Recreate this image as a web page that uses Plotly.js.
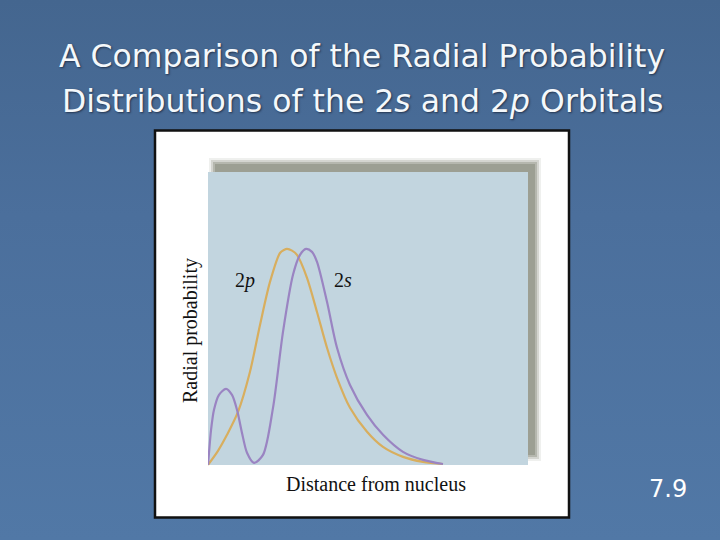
<!DOCTYPE html>
<html>
<head>
<meta charset="utf-8">
<script src="https://cdn.plot.ly/plotly-3.0.1.min.js"></script>
<style>
html,body{margin:0;padding:0;width:720px;height:540px;overflow:hidden;
background:linear-gradient(180deg,#44668f 0%,#4b6f9c 40%,#5178a6 100%);}
#chart{width:720px;height:540px;}
</style>
</head>
<body>
<div id="chart"></div>
<script>
// Distance from nucleus (arbitrary units) and radial probability (relative to peak = 1)
var x2p = [0, 0.5, 0.95, 1.5, 2.1, 2.6, 3.1, 3.6, 3.8, 3.95, 4.2, 4.45, 4.95, 5.45, 5.95, 6.45, 7.1, 7.95, 8.75, 9.75, 10.75, 11.75];
var y2p = [0, 0.065, 0.139, 0.245, 0.431, 0.648, 0.847, 0.981, 0.995, 1.0, 0.992, 0.972, 0.866, 0.708, 0.542, 0.403, 0.264, 0.153, 0.083, 0.037, 0.014, 0.004];

var x2s = [0, 0.05, 0.15, 0.3, 0.55, 0.9, 1.2, 1.45, 1.7, 1.95, 2.3, 2.75, 3.25, 3.75, 4.25, 4.6, 4.9, 5.2, 5.45, 5.95, 6.45, 7.1, 7.95, 8.75, 9.75, 10.75, 11.75];
var y2s = [0, 0.056, 0.16, 0.255, 0.324, 0.352, 0.324, 0.255, 0.148, 0.056, 0.009, 0.046, 0.264, 0.616, 0.880, 0.972, 1.0, 0.986, 0.940, 0.755, 0.542, 0.370, 0.231, 0.139, 0.060, 0.023, 0.004];

var labels = {s: '2<i>s</i>', p: '2<i>p</i>'};
var xTitle = 'Distance from nucleus';
var yTitle = 'Radial probability';
var titleLine1 = 'A Comparison of the Radial Probability';
var titleLine2 = 'Distributions of the 2<i>s</i> and 2<i>p</i> Orbitals';
var slideNumber = '7.9';

// plot-area geometry (pixels)
var L = 208, R = 528, T = 172, B = 467;
var W = R - L, H = B - T;
function px(v){ return (v - L) / W; }
function py(v){ return (B - v) / H; }

var serif = 'Liberation Serif, Times New Roman, serif';
var sans = 'DejaVu Sans, Verdana, sans-serif';

var traces = [
  {x: x2p, y: y2p, mode: 'lines', line: {color: '#d8ae5e', width: 2.2, shape: 'spline', smoothing: 0.8}, hoverinfo: 'skip', cliponaxis: false},
  {x: x2s, y: y2s, mode: 'lines', line: {color: '#9a84c2', width: 2.2, shape: 'spline', smoothing: 0.8}, hoverinfo: 'skip', cliponaxis: false}
];

var shapes = [
  // white frame
  {type: 'rect', xref: 'paper', yref: 'paper', x0: px(155), x1: px(569), y0: py(130.5), y1: py(517.5),
   fillcolor: '#ffffff', line: {color: '#111111', width: 2.5}, layer: 'below'},
  // soft shadow
  {type: 'rect', xref: 'paper', yref: 'paper', x0: px(209), x1: px(541), y0: py(158), y1: py(461),
   fillcolor: 'rgba(150,153,140,0.15)', line: {width: 0}, layer: 'below'},
  {type: 'rect', xref: 'paper', yref: 'paper', x0: px(211), x1: px(539), y0: py(160), y1: py(459),
   fillcolor: 'rgba(150,153,140,0.3)', line: {width: 0}, layer: 'below'},
  {type: 'rect', xref: 'paper', yref: 'paper', x0: px(213), x1: px(537), y0: py(162), y1: py(457),
   fillcolor: 'rgba(150,153,140,0.5)', line: {width: 0}, layer: 'below'},
  {type: 'rect', xref: 'paper', yref: 'paper', x0: px(215), x1: px(535), y0: py(164), y1: py(455),
   fillcolor: 'rgba(150,153,140,0.8)', line: {width: 0}, layer: 'below'},
  // plot area
  {type: 'rect', xref: 'paper', yref: 'paper', x0: 0, x1: 1, y0: py(465), y1: 1,
   fillcolor: '#c2d5df', line: {width: 0}, layer: 'below'}
];

var titleShadow = '1px 1px 2px rgba(20,30,50,0.7)';
var annotations = [
  {text: titleLine1, xref: 'paper', yref: 'paper', x: px(362), y: py(56), xanchor: 'center', yanchor: 'middle',
   showarrow: false, font: {family: sans, size: 31.5, color: '#f4f8fb', shadow: titleShadow}},
  {text: titleLine2, xref: 'paper', yref: 'paper', x: px(362), y: py(101), xanchor: 'center', yanchor: 'middle',
   showarrow: false, font: {family: sans, size: 31.5, color: '#f4f8fb', shadow: titleShadow}},
  {text: slideNumber, xref: 'paper', yref: 'paper', x: px(668), y: py(489), xanchor: 'center', yanchor: 'middle',
   showarrow: false, font: {family: sans, size: 24, color: '#ffffff'}},
  {text: xTitle, xref: 'paper', yref: 'paper', x: px(376), y: py(484), xanchor: 'center', yanchor: 'middle',
   showarrow: false, font: {family: serif, size: 20, color: '#111111'}},
  {text: yTitle, xref: 'paper', yref: 'paper', x: px(190), y: py(331), xanchor: 'center', yanchor: 'middle',
   textangle: -90, showarrow: false, font: {family: serif, size: 20, color: '#111111'}},
  {text: labels.p, xref: 'paper', yref: 'paper', x: px(245), y: py(280), xanchor: 'center', yanchor: 'middle',
   showarrow: false, font: {family: serif, size: 20, color: '#111111'}},
  {text: labels.s, xref: 'paper', yref: 'paper', x: px(343), y: py(280), xanchor: 'center', yanchor: 'middle',
   showarrow: false, font: {family: serif, size: 20, color: '#111111'}}
];

var layout = {
  width: 720, height: 540,
  margin: {l: L, r: 720 - R, t: T, b: 540 - B, pad: 0},
  paper_bgcolor: 'rgba(0,0,0,0)',
  plot_bgcolor: 'rgba(0,0,0,0)',
  showlegend: false,
  xaxis: {range: [0, 16], showgrid: false, zeroline: false, showticklabels: false, ticks: '', showline: false, fixedrange: true},
  yaxis: {range: [-0.01, 1.356], showgrid: false, zeroline: false, showticklabels: false, ticks: '', showline: false, fixedrange: true},
  shapes: shapes,
  annotations: annotations
};

Plotly.newPlot('chart', traces, layout, {staticPlot: true, displayModeBar: false});
</script>
</body>
</html>
